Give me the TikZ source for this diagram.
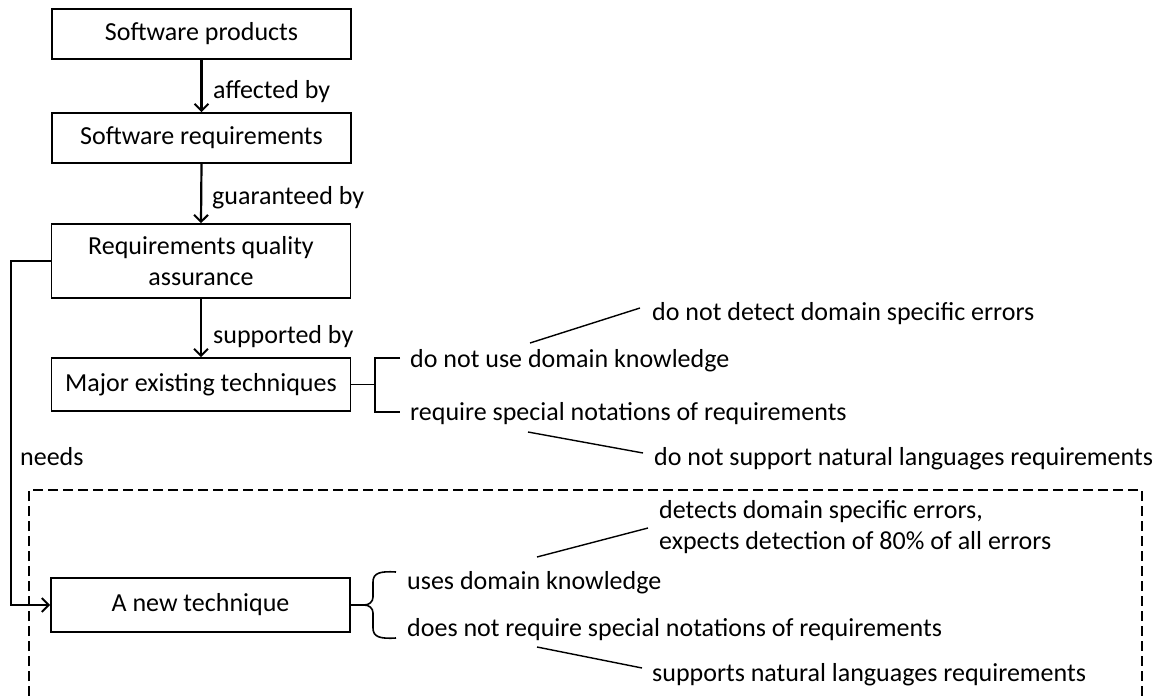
\documentclass[tikz,border=0pt]{standalone}
\usepackage{fontspec}
\setmainfont{Carlito}
\usetikzlibrary{arrows.meta}
\begin{document}
\begin{tikzpicture}[x=1pt,y=-1pt,
  font=\fontsize{26}{31}\selectfont,
  box/.style={draw, line width=1.6pt, minimum width=299pt, inner sep=0pt, align=center},
  flow/.style={line width=2.2pt, -{Straight Barb[length=7pt,width=14pt,line width=2pt]}},
  lbl/.style={anchor=base west, inner sep=0pt},
  lead/.style={line width=1.4pt},
  brk/.style={line width=1.6pt}]
\useasboundingbox (0,0) rectangle (1171,696);

% main chain
\node[box, minimum height=50pt] (sp) at (201.5,34) {Software products};
\node[box, minimum height=50pt] (sr) at (201.5,138) {Software requirements};
\node[box, minimum height=74pt] (rqa) at (201,261) {Requirements quality\\assurance};
\node[box, minimum height=53pt] (met) at (201,384.5) {Major existing techniques};
\node[box, minimum height=54pt] (nt) at (200.5,605) {A new technique};

\draw[flow] (sp.south) -- (sr.north);
\draw[flow] (sr.south) -- (rqa.north);
\draw[flow] (rqa.south) -- (met.north);
\draw[flow] (rqa.west) -- ++(-40,0) |- (nt.west);

\node[lbl] (l1) at (213,98) {affected by};
\node[lbl] (l2) at (212,204) {guaranteed by};
\node[lbl] (l3) at (213,343) {supported by};
\node[lbl] (l4) at (20,465) {needs};

% properties of existing techniques
\coordinate (mj) at (375,384.5);
\node[lbl] (e1) at (410,367) {do not use domain knowledge};
\node[lbl] (e2) at (410,420) {require special notations of requirements};
\node[lbl] (e3) at (652,320) {do not detect domain specific errors};
\node[lbl] (e4) at (654,465) {do not support natural languages requirements};
\draw[brk] (met.east) -- (mj);
\draw[brk] (400,358) -- (375,358) -- (375,412) -- (400,412);
\coordinate (e1a) at (530,343);
\coordinate (e3a) at (640,308);
\coordinate (e2a) at (528,432);
\coordinate (e4a) at (643,453);
\draw[lead] (e1a) -- (e3a);
\draw[lead] (e2a) -- (e4a);

% the new technique
\draw[dashed, dash pattern=on 10pt off 5pt, line width=1.3pt] (29,696) -- (29,490) -- (1142,490) -- (1142,696);
\coordinate (nj) at (364,605);
\draw[brk] (nt.east) -- (nj);
\draw[brk] (396,572) .. controls (380,571) and (373,573) .. (373,582) -- (373,597)
  .. controls (373,602) and (369,605) .. (nj)
  .. controls (369,605) and (373,608) .. (373,613) -- (373,628)
  .. controls (373,637) and (380,639) .. (396,638);
\node[lbl] (n1) at (407,589) {uses domain knowledge};
\node[lbl] (n2) at (407,636) {does not require special notations of requirements};
\node[lbl, align=left, anchor=north west] (n3) at (659,500) {detects domain specific errors,\\expects detection of 80\% of all errors};
\node[lbl] (n4) at (652,681) {supports natural languages requirements};
\coordinate (n1a) at (537,557);
\coordinate (n3a) at (648,528);
\coordinate (n2a) at (537,647);
\coordinate (n4a) at (642,668);
\draw[lead] (n1a) -- (n3a);
\draw[lead] (n2a) -- (n4a);
\end{tikzpicture}
\end{document}
